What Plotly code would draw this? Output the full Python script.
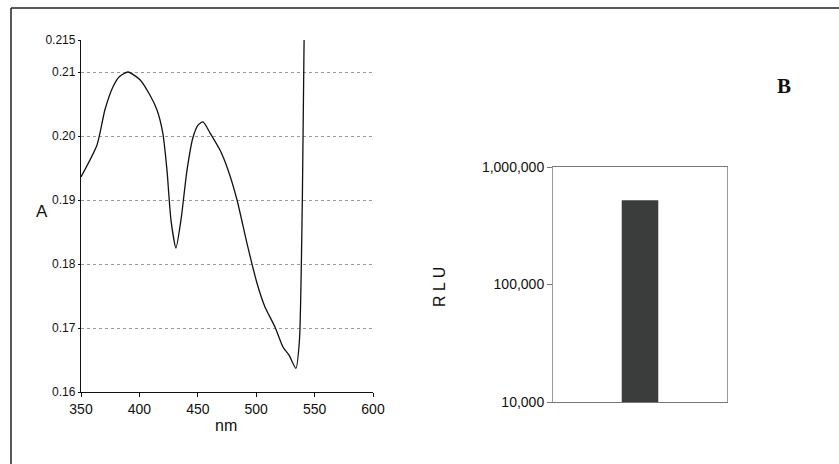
import plotly.graph_objects as go

W, H = 839, 464

# Absorption spectrum (wavelength in nm, absorbance A)
wavelength = [350, 363.7, 370.5, 377.4, 383.0, 390.2, 400.5, 409.0, 415.0, 420.0,
              423.6, 427.0, 431.3, 435.6, 440.8, 445.9, 450.2, 454.5, 460.4, 469.0,
              475.9, 483.6, 492.0, 500.7, 507.5, 516.0, 523.0, 528.0, 534.0, 537.0,
              539.5, 541.0]
absorbance = [0.1936, 0.1986, 0.2041, 0.2077, 0.2093, 0.2100, 0.2088, 0.2064, 0.2041, 0.2005,
              0.1947, 0.1869, 0.1825, 0.1869, 0.1947, 0.1998, 0.2017, 0.2022, 0.2005, 0.1978,
              0.1947, 0.1900, 0.1833, 0.1770, 0.1733, 0.1702, 0.1670, 0.1658, 0.1637, 0.1680,
              0.1900, 0.2150]
a_ticks = [0.16, 0.17, 0.18, 0.19, 0.20, 0.21, 0.215]
a_ticktext = ["0.16", "0.17", "0.18", "0.19", "0.20", "0.21", "0.215"]
nm_ticks = [350, 400, 450, 500, 550, 600]

# Luminescence (relative light units)
samples = ["B"]
rlu = [520000]
rlu_ticks = [10000, 100000, 1000000]
rlu_ticktext = ["10,000", "100,000", "1,000,000"]


def px_x(x):
    return x / W


def px_y(y):
    return (H - y) / H


fig = go.Figure()

fig.add_trace(go.Scatter(
    x=wavelength, y=absorbance, mode="lines",
    line=dict(color="#111111", width=1.3, shape="spline", smoothing=0.6),
    xaxis="x", yaxis="y", showlegend=False, cliponaxis=True,
))

fig.add_trace(go.Bar(
    x=samples, y=rlu, marker=dict(color="#3b3d3d", line=dict(width=0)),
    width=0.21, xaxis="x2", yaxis="y2", showlegend=False,
))

axis_font = dict(family="Liberation Sans, Arial, sans-serif", color="#111111")
narrow_font = dict(family="Liberation Sans Narrow, Liberation Sans, Arial, sans-serif",
                   color="#111111")

fig.update_layout(
    template="none",
    width=W, height=H, autosize=False,
    margin=dict(l=0, r=0, t=0, b=0, pad=0, autoexpand=False),
    paper_bgcolor="white", plot_bgcolor="rgba(0,0,0,0)",
    xaxis=dict(
        domain=[px_x(81), px_x(373)], range=[350, 600], automargin=False,
        tickvals=nm_ticks, ticks="outside", ticklen=4, tickcolor="#111",
        showline=True, linecolor="#111", linewidth=1.3, showgrid=False,
        zeroline=False, tickfont=dict(size=14, **narrow_font),
        anchor="y",
    ),
    yaxis=dict(
        domain=[px_y(392), px_y(40)], range=[0.16, 0.215], automargin=False,
        tickvals=a_ticks, ticktext=a_ticktext, ticks="outside", ticklen=2,
        tickcolor="#111", showline=True, linecolor="#111", linewidth=1.3,
        showgrid=True, gridcolor="#9a9a9a", griddash="dot", gridwidth=1,
        zeroline=False, tickfont=dict(size=12, **narrow_font),
        anchor="x",
    ),
    xaxis2=dict(
        domain=[px_x(553), px_x(727)], range=[-0.5, 0.5], automargin=False,
        showticklabels=False, ticks="", showline=True, linecolor="#777",
        linewidth=1, mirror=True, showgrid=False, zeroline=False,
        anchor="y2",
    ),
    yaxis2=dict(
        domain=[px_y(402), px_y(167)], type="log", range=[4, 6], automargin=False,
        tickvals=rlu_ticks, ticktext=rlu_ticktext, ticks="outside",
        ticklen=5, tickcolor="#777", showline=True, linecolor="#999",
        linewidth=1, mirror=True, showgrid=False, zeroline=False,
        tickfont=dict(size=14, **axis_font),
        anchor="x2",
    ),
    annotations=[
        dict(text="A", x=px_x(42), y=px_y(211), xref="paper", yref="paper",
             xanchor="center", yanchor="middle",
             showarrow=False, font=dict(size=17, **axis_font)),
        dict(text="nm", x=px_x(226), y=px_y(425), xref="paper", yref="paper",
             xanchor="center", yanchor="middle",
             showarrow=False, font=dict(size=16, **axis_font)),
        dict(text="R L U", x=px_x(439), y=px_y(287), xref="paper", yref="paper",
             xanchor="center", yanchor="middle",
             showarrow=False, textangle=-90, font=dict(size=16, **axis_font)),
        dict(text="<b>B</b>", x=px_x(784), y=px_y(86), xref="paper", yref="paper",
             xanchor="center", yanchor="middle",
             showarrow=False,
             font=dict(size=21, family="Liberation Serif, Times New Roman, serif",
                       color="#111")),
    ],
    shapes=[
        # panel frame: top and left edges
        dict(type="line", xref="paper", yref="paper",
             x0=px_x(11), x1=1, y0=px_y(8), y1=px_y(8),
             line=dict(color="#222", width=1.5)),
        dict(type="line", xref="paper", yref="paper",
             x0=px_x(11), x1=px_x(11), y0=0, y1=px_y(8),
             line=dict(color="#222", width=1.5)),
    ],
)

fig.write_html(
    "out.html",
    post_script="document.body.style.margin='0';document.body.style.overflow='hidden';",
)
